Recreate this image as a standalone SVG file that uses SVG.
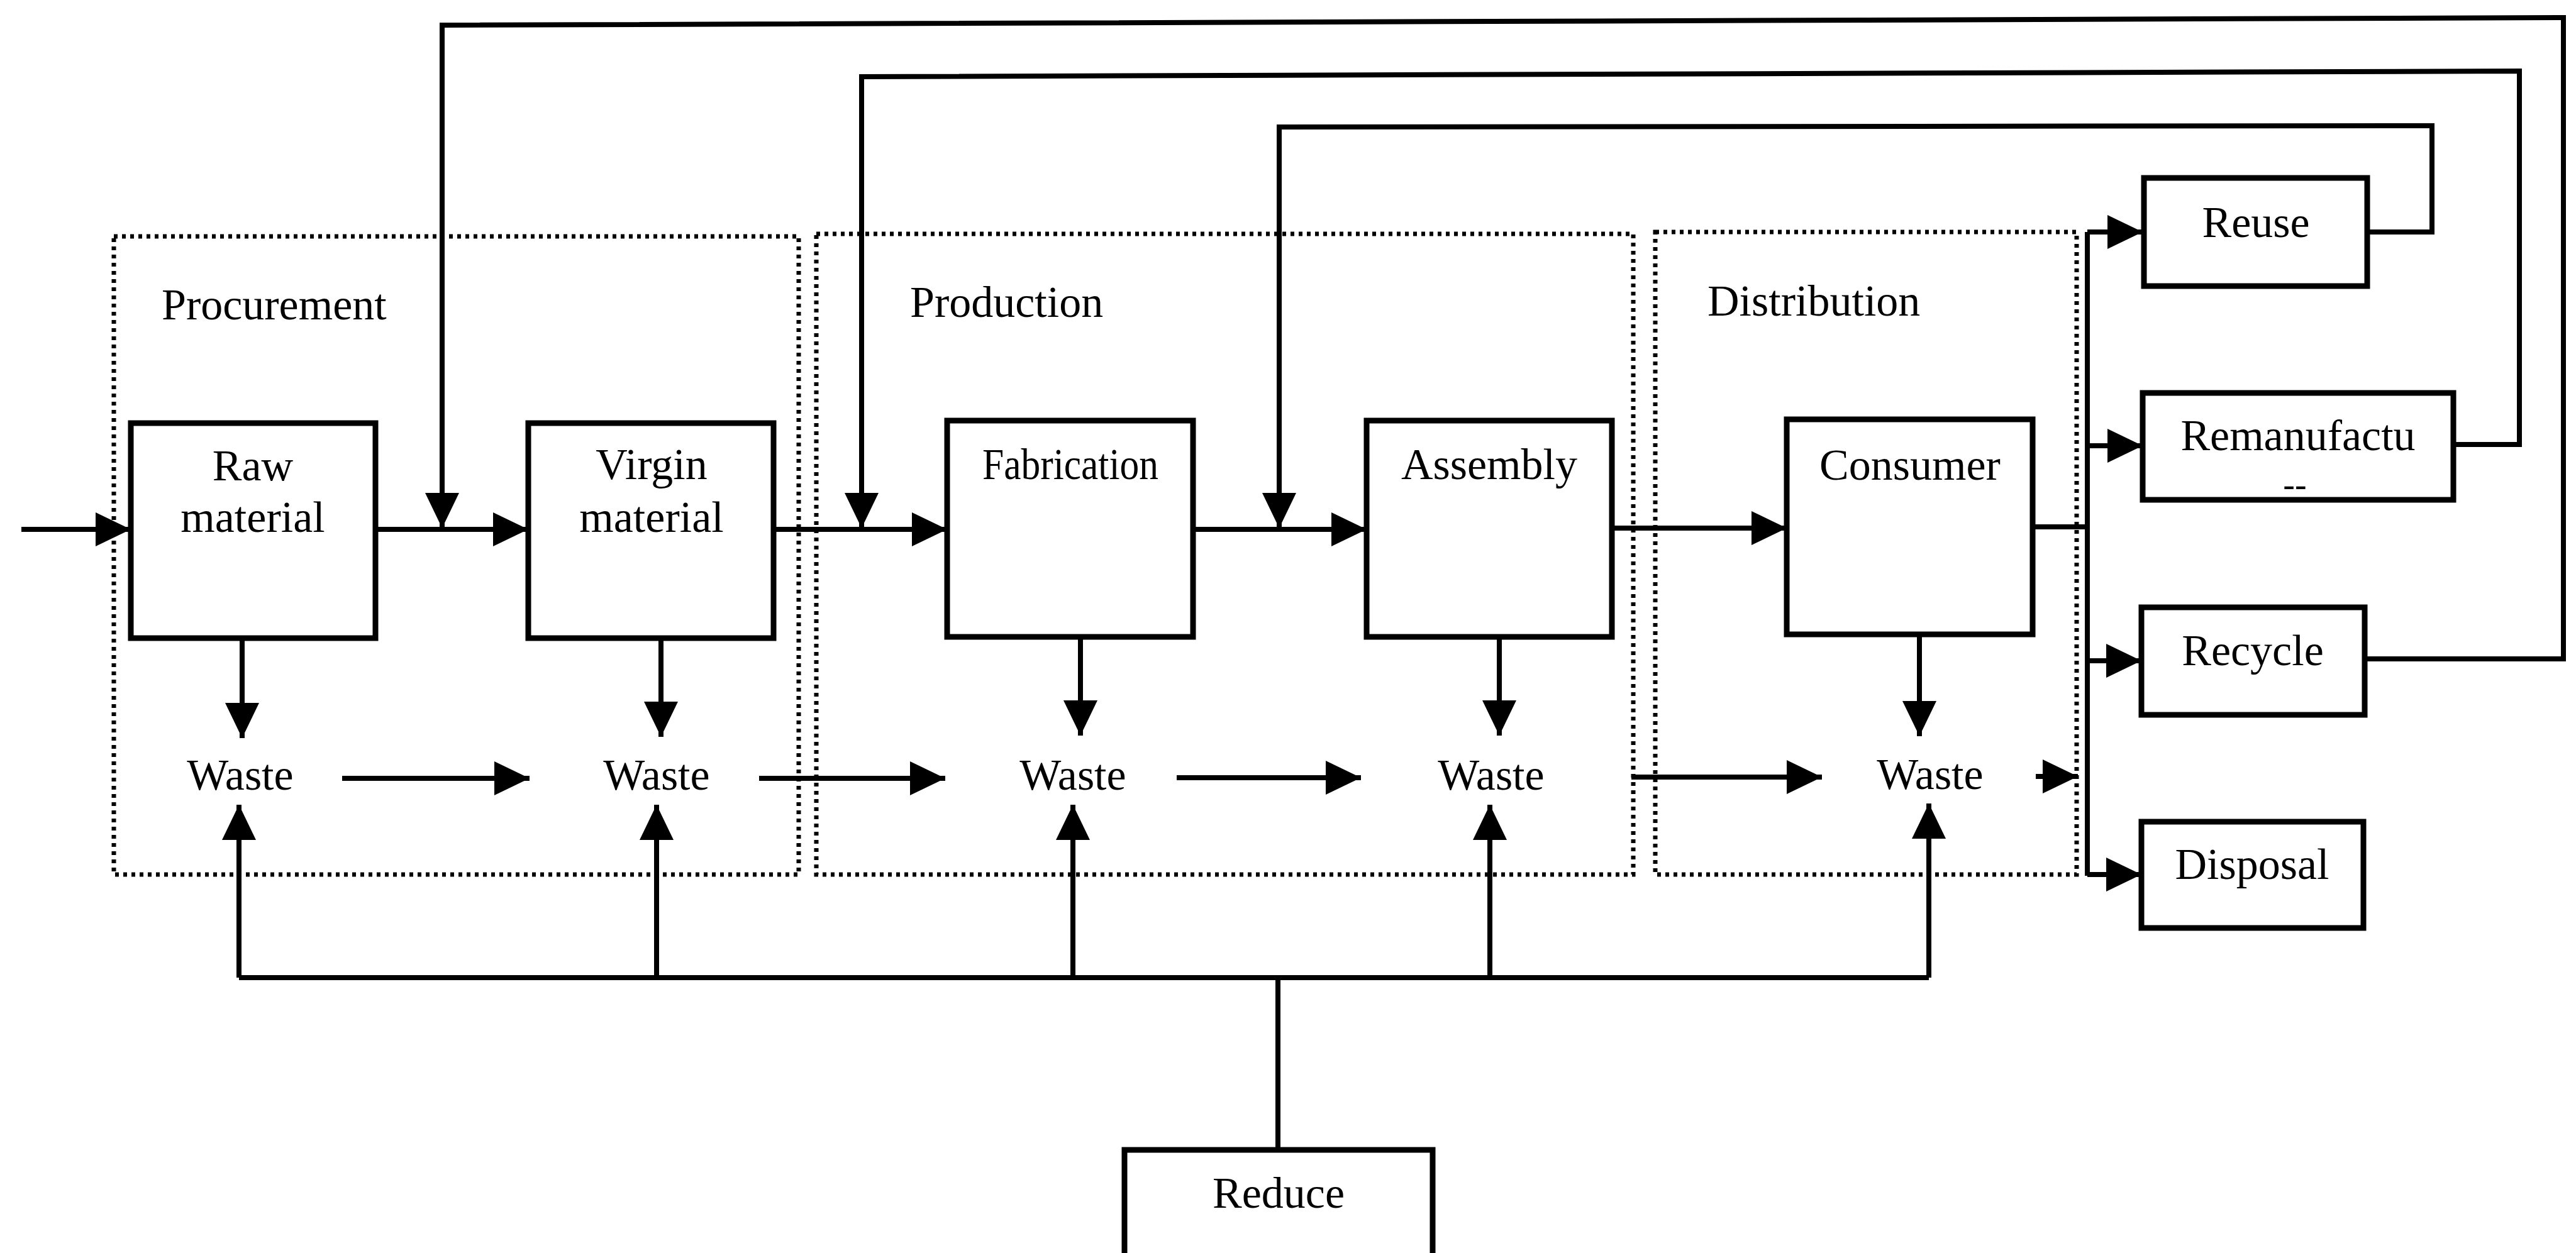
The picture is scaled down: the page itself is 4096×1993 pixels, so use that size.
<svg xmlns="http://www.w3.org/2000/svg" width="4096" height="1993" viewBox="0 0 4096 1993">
<style>
.bg{fill:#fff}
.box{fill:#fff;stroke:#000;stroke-width:9}
.stage{fill:none;stroke:#000;stroke-width:7;stroke-dasharray:6 7}
.c{fill:none;stroke:#000;stroke-width:8}
.t{font-family:"Liberation Serif","Times New Roman",serif;font-size:70px;fill:#000}
.m{text-anchor:middle}
</style>
<defs>
<marker id="ah" markerUnits="userSpaceOnUse" markerWidth="56" markerHeight="54" refX="56" refY="27" orient="auto" viewBox="0 0 56 54">
<path d="M0,0 L56,27 L0,54 z" fill="#000"/>
</marker>
</defs>
<rect class="bg" x="0" y="0" width="4096" height="1993"/>

<g id="stages">
<g id="procurement"><rect class="stage" x="181" y="376" width="1089" height="1015"/><text class="t" x="257" y="508">Procurement</text></g>
<g id="production"><rect class="stage" x="1298" y="372" width="1299" height="1019"/><text class="t" x="1447" y="504">Production</text></g>
<g id="distribution"><rect class="stage" x="2632" y="369" width="670" height="1022"/><text class="t" x="2715" y="502">Distribution</text></g>
</g>

<g id="connectors">
<path class="c" d="M34,842 H208" marker-end="url(#ah)"/>
<path class="c" d="M597,842 H840" marker-end="url(#ah)"/>
<path class="c" d="M1230,842 H1506" marker-end="url(#ah)"/>
<path class="c" d="M1897,842 H2173" marker-end="url(#ah)"/>
<path class="c" d="M2563,840 H2841" marker-end="url(#ah)"/>
<path class="c" d="M3232,838 H3319"/>
<path class="c" d="M3319,369 V1393"/>
<path class="c" d="M3319,369 H3407" marker-end="url(#ah)"/>
<path class="c" d="M3319,709 H3407" marker-end="url(#ah)"/>
<path class="c" d="M3319,1051 H3405" marker-end="url(#ah)"/>
<path class="c" d="M3319,1391 H3405" marker-end="url(#ah)"/>
<path class="c" d="M3760,1048 H4076 V28 L703,40 V840" marker-end="url(#ah)"/>
<path class="c" d="M3901,707 H4006 V113 L1370,122 V840" marker-end="url(#ah)"/>
<path class="c" d="M3764,369 H3867 V200 L2034,202 V840" marker-end="url(#ah)"/>
<path class="c" d="M385,1013 V1174" marker-end="url(#ah)"/>
<path class="c" d="M1051,1013 V1172" marker-end="url(#ah)"/>
<path class="c" d="M1718,1013 V1170" marker-end="url(#ah)"/>
<path class="c" d="M2384,1013 V1170" marker-end="url(#ah)"/>
<path class="c" d="M3052,1009 V1171" marker-end="url(#ah)"/>
<path class="c" d="M544,1238 H842" marker-end="url(#ah)"/>
<path class="c" d="M1207,1238 H1503" marker-end="url(#ah)"/>
<path class="c" d="M1871,1237 H2164" marker-end="url(#ah)"/>
<path class="c" d="M2594,1236 H2897" marker-end="url(#ah)"/>
<path class="c" d="M3237,1235 H3304" marker-end="url(#ah)"/>
<path class="c" d="M380,1555 H3067"/>
<path class="c" d="M380,1555 V1280" marker-end="url(#ah)"/>
<path class="c" d="M1044,1555 V1280" marker-end="url(#ah)"/>
<path class="c" d="M1706,1555 V1280" marker-end="url(#ah)"/>
<path class="c" d="M2369,1555 V1280" marker-end="url(#ah)"/>
<path class="c" d="M3067,1555 V1278" marker-end="url(#ah)"/>
<path class="c" d="M2032,1555 V1829"/>
</g>

<g id="raw-material"><rect class="box" x="208" y="673" width="389" height="342"/><text class="t m" x="402" y="764">Raw</text><text class="t m" x="402" y="846">material</text></g>
<g id="virgin-material"><rect class="box" x="840" y="673" width="390" height="342"/><text class="t m" x="1036" y="762">Virgin</text><text class="t m" x="1036" y="846">material</text></g>
<g id="fabrication"><rect class="box" x="1506" y="669" width="391" height="344"/><text class="t m" x="1702" y="762" textLength="280" lengthAdjust="spacingAndGlyphs">Fabrication</text></g>
<g id="assembly"><rect class="box" x="2173" y="669" width="390" height="344"/><text class="t m" x="2368" y="762">Assembly</text></g>
<g id="consumer"><rect class="box" x="2841" y="667" width="391" height="342"/><text class="t m" x="3037" y="763">Consumer</text></g>
<g id="reuse"><rect class="box" x="3409" y="283" width="355" height="172"/><text class="t m" x="3587" y="377">Reuse</text></g>
<g id="remanufacture"><rect class="box" x="3407" y="625" width="494" height="170"/><text class="t m" x="3654" y="716">Remanufactu</text><text class="t m" x="3649" y="789" style="font-size:56px">--</text></g>
<g id="recycle"><rect class="box" x="3405" y="966" width="355" height="171"/><text class="t m" x="3582" y="1058">Recycle</text></g>
<g id="disposal"><rect class="box" x="3405" y="1307" width="353" height="169"/><text class="t m" x="3581" y="1398">Disposal</text></g>
<g id="reduce"><rect class="box" x="1788" y="1829" width="490" height="200"/><text class="t m" x="2033" y="1921">Reduce</text></g>

<g id="waste-raw"><text class="t m" x="382" y="1256">Waste</text></g>
<g id="waste-virgin"><text class="t m" x="1044" y="1256">Waste</text></g>
<g id="waste-fabrication"><text class="t m" x="1706" y="1256">Waste</text></g>
<g id="waste-assembly"><text class="t m" x="2371" y="1256">Waste</text></g>
<g id="waste-consumer"><text class="t m" x="3069" y="1255">Waste</text></g>
</svg>
